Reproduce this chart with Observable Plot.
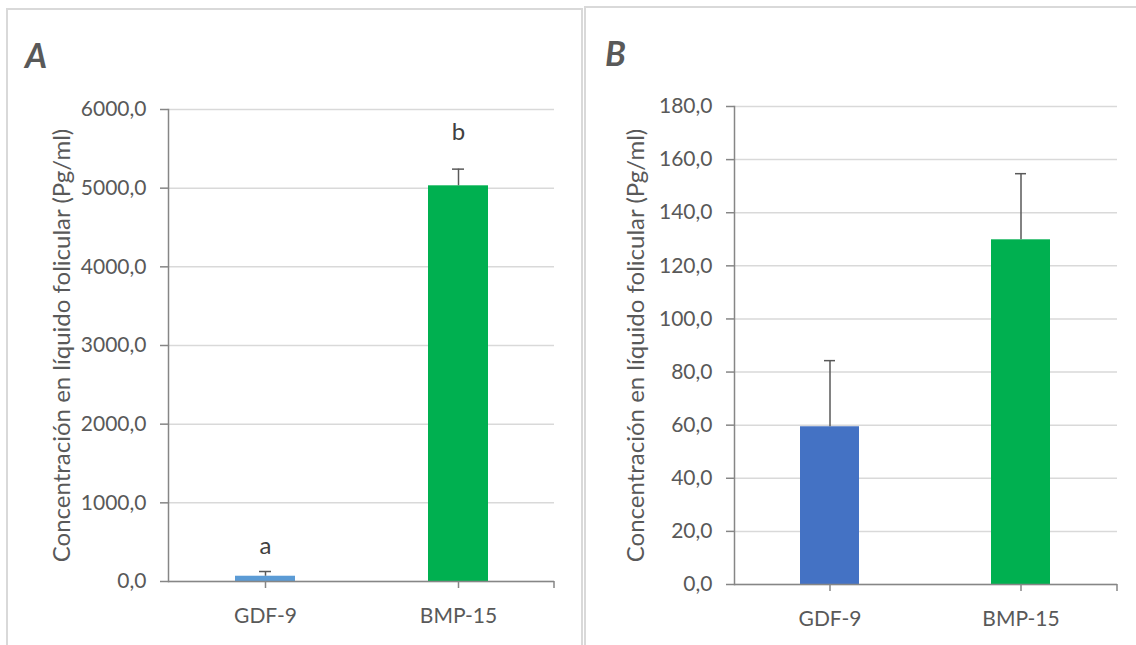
<!DOCTYPE html>
<html>
<head>
<meta charset="utf-8">
<script src="https://cdn.jsdelivr.net/npm/d3@7"></script>
<script src="https://cdn.jsdelivr.net/npm/@observablehq/plot@0.6"></script>
<style>
  html, body { margin: 0; padding: 0; background: #fff; }
  body { width: 1136px; height: 645px; overflow: hidden; position: relative; font-family: Lato, "Open Sans", sans-serif; }
  .border { position: absolute; border: 2px solid #d9d9d9; border-bottom: none; box-sizing: border-box; }
  #borderA { left: 6px; top: 8px; width: 577px; height: 700px; }
  #borderB { left: 584px; top: 6px; width: 600px; height: 700px; }
  .chart { position: absolute; }
  #chartA { left: 7px; top: 9px; }
  #chartB { left: 585px; top: 7px; }
  .panelTitle { position: absolute; font: italic 700 34px Lato, sans-serif; color: #595959; line-height: 1; }
  #titleA { left: 25px; top: 38px; }
  #titleB { left: 605px; top: 36px; }
</style>
</head>
<body>
<div class="border" id="borderA"></div>
<div class="border" id="borderB"></div>
<div class="chart" id="chartA"></div>
<div class="chart" id="chartB"></div>
<div class="panelTitle" id="titleA">A</div>
<div class="panelTitle" id="titleB">B</div>
<script>
// ---- data ----
const categories = ["GDF-9", "BMP-15"];
const yLabel = "Concentración en líquido folicular (Pg/ml)";

const meansA = [67, 5030];
const errorsA = [60, 212];
const lettersA = ["a", "b"];
const ticksA = [0, 1000, 2000, 3000, 4000, 5000, 6000];
const colorsA = ["#5B9BD5", "#00B050"];

const meansB = [59.4, 129.8];
const errorsB = [24.9, 24.9];
const ticksB = [0, 20, 40, 60, 80, 100, 120, 140, 160, 180];
const colorsB = ["#4472C4", "#00B050"];

const fmt = d => d3.format(".1f")(d).replace(".", ",");

function makeChart(cfg) {
  const data = categories.map((c, i) => ({
    cat: c, v: cfg.means[i], hi: cfg.means[i] + cfg.errors[i],
    color: cfg.colors[i], letter: cfg.letters ? cfg.letters[i] : null
  }));
  const marks = [
    Plot.gridY(cfg.ticks, {stroke: "#d9d9d9", strokeOpacity: 1, strokeWidth: 1.5}),
    Plot.barY(data, {x: "cat", y: "v", fill: "color"}),
    Plot.ruleX(data, {x: "cat", y1: "v", y2: "hi", stroke: "#595959", strokeWidth: 1.5}),
    Plot.tickY(data, {x: "cat", y: "hi", stroke: "#595959", strokeWidth: 1.5, insetLeft: 24, insetRight: 24}),
    Plot.ruleY([0], {stroke: "#868686", strokeWidth: 1.5}),
    Plot.frame({anchor: "left", stroke: "#868686", strokeWidth: 1.5}),
    Plot.axisY(cfg.ticks, {
      tickFormat: fmt, tickSize: 8, tickPadding: 14, stroke: "#868686", strokeWidth: 1.5,
      fill: "#595959", fontSize: 21, label: null
    }),
    Plot.text([yLabel], {
      text: d => d, frameAnchor: "left", textAnchor: "middle", lineAnchor: "middle",
      rotate: -90, dx: cfg.labelDx, fontSize: 24, fill: "#595959"
    }),
    Plot.axisX({tickSize: 7, tickPadding: 20, stroke: "#868686", strokeWidth: 1.5, fill: "#595959", fontSize: 21, label: null})
  ];
  if (cfg.letters) {
    marks.push(Plot.text(data.filter((d, i) => i === 0), {x: "cat", y: "hi", text: "letter", dy: -25, fontSize: 24, fill: "#404040"}));
    marks.push(Plot.text(data.filter((d, i) => i === 1), {x: "cat", y: "hi", text: "letter", dy: -37, fontSize: 24, fill: "#404040"}));
  }
  const p = Plot.plot({
    width: cfg.width, height: cfg.height,
    marginLeft: cfg.ml, marginRight: cfg.mr, marginTop: cfg.mt, marginBottom: cfg.mb,
    style: {fontFamily: "Lato, 'Open Sans', sans-serif", fontSize: "21px", color: "#595959", background: "transparent", overflow: "visible"},
    x: {domain: categories, paddingInner: 0.69, paddingOuter: 0.345},
    y: {domain: [0, cfg.ticks[cfg.ticks.length - 1]]},
    marks
  });
  // end tick at the right end of the category axis
  const sx = p.scale("x"), sy = p.scale("y");
  const xEnd = sx.range[1];
  const y0 = sy.apply(0);
  d3.select(p).append("line")
    .attr("x1", xEnd).attr("x2", xEnd).attr("y1", y0).attr("y2", y0 + 7)
    .attr("stroke", "#868686").attr("stroke-width", 1.5);
  return p;
}

document.getElementById("chartA").append(makeChart({
  means: meansA, errors: errorsA, colors: colorsA, letters: lettersA, ticks: ticksA,
  width: 575, height: 636, ml: 161, mr: 28, mt: 100, mb: 64, labelDx: -106
}));
document.getElementById("chartB").append(makeChart({
  means: meansB, errors: errorsB, colors: colorsB, letters: null, ticks: ticksB,
  width: 551, height: 638, ml: 149, mr: 19, mt: 99, mb: 61, labelDx: -98
}));
</script>
</body>
</html>
